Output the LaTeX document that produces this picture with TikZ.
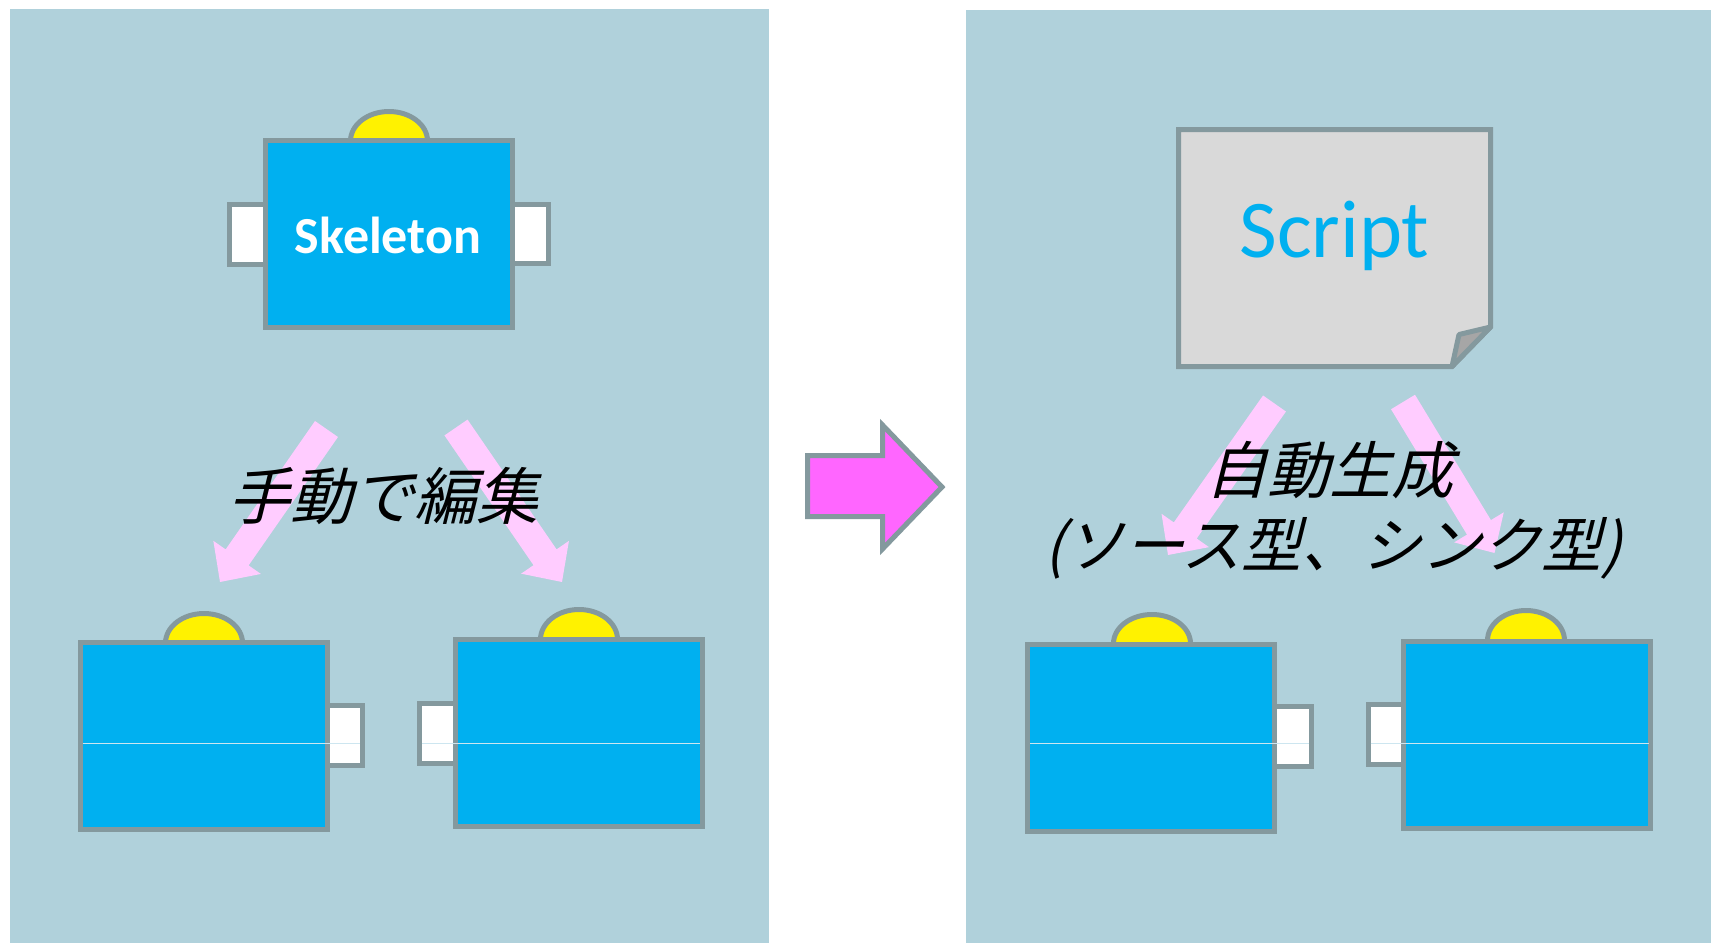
\documentclass[tikz,border=0pt]{standalone}
\usepackage{fontspec}
\newfontfamily\carlito{Carlito}
\newfontfamily\jpfont[FakeSlant=0.25]{Noto Sans CJK JP}
\usetikzlibrary{calc}
\definecolor{panelbg}{RGB}{176,209,219}
\definecolor{edgegray}{RGB}{132,153,158}
\definecolor{boxblue}{RGB}{0,176,240}
\definecolor{pinkc}{RGB}{255,204,255}
\definecolor{magentac}{RGB}{255,102,255}
\definecolor{docgray}{RGB}{217,217,217}
\definecolor{foldgray}{RGB}{166,166,166}
\definecolor{midc}{RGB}{205,230,240}
\newcommand\pinkarrow[2]{%
  \coordinate (#1h) at ($(#2)!30pt!(#1)$);
  \fill[pinkc] ($(#1)!14pt!90:(#2)$) -- ($(#1h)!14pt!90:(#2)$) -- ($(#1h)!29pt!90:(#2)$)
    -- (#2) -- ($(#1h)!29pt!-90:(#2)$) -- ($(#1h)!14pt!-90:(#2)$) -- ($(#1)!14pt!-90:(#2)$) -- cycle;}
\begin{document}
\begin{tikzpicture}[x=1pt,y=-1pt,
  edge/.style={draw=edgegray, line width=5pt},
  blockbox/.style={edge, fill=boxblue, minimum width=247pt, minimum height=187pt, inner sep=0pt, outer sep=0pt},
  portbox/.style={edge, fill=white},
  domeshape/.style={edge, fill=yellow},
  midstyle/.style={draw=midc, line width=0.9pt},
  jptext/.style={font=\jpfont\fontsize{62}{72}\selectfont, text=black, inner sep=0pt}]
\useasboundingbox (0,0) rectangle (1711,943);
\fill[white] (0,0) rectangle (1711,943);
% panels
\fill[panelbg] (10,9) rectangle (769,943);
\fill[panelbg] (966,10) rectangle (1711,943);

% ---------- Skeleton ----------
\draw[portbox] (229.5,204.5) rectangle (270,264.5);
\draw[portbox] (505,204.5) rectangle (548.5,263.5);
\draw[domeshape] (350.5,141) arc[start angle=180, end angle=0, x radius=38.5pt, y radius=29.5pt];
\node[blockbox] (skel) at (388.5,234) {};
\node[font=\carlito\bfseries\fontsize{52}{60}\selectfont, text=white, anchor=base, inner sep=0pt] (skeltext) at (388,253) {Skeleton};

% ---------- bottom-left pair ----------
\draw[portbox] (320,705.5) rectangle (362.5,765.5);
\draw[domeshape] (165.5,643) arc[start angle=180, end angle=0, x radius=38.5pt, y radius=29.5pt];
\node[blockbox] (A) at (203.5,736) {};
\draw[portbox] (419.5,703.5) rectangle (460,763.5);
\draw[domeshape] (540.5,639.5) arc[start angle=180, end angle=0, x radius=38.5pt, y radius=30pt];
\node[blockbox] (B) at (578.5,733) {};
\draw[midstyle] (82.5,743) -- (360,743);
\draw[midstyle] (422,743) -- (700,743);

% ---------- bottom-right pair ----------
\draw[portbox] (1270,706.5) rectangle (1311,766.5);
\draw[domeshape] (1113.5,643.5) arc[start angle=180, end angle=0, x radius=38.5pt, y radius=29pt];
\node[blockbox] (C) at (1151.25,737.5) {};
\draw[portbox] (1368,704.5) rectangle (1408,764.5);
\draw[domeshape] (1487.5,640.5) arc[start angle=180, end angle=0, x radius=38.5pt, y radius=30pt];
\node[blockbox] (D) at (1526.75,734.5) {};
\draw[midstyle] (1030,743) -- (1308.5,743);
\draw[midstyle] (1370.5,743) -- (1648.5,743);

% ---------- Script document ----------
\draw[edge, fill=docgray] (1178.5,129.5) -- (1490.5,129.5) -- (1490.5,327) -- (1452,366.5) -- (1178.5,366.5) -- cycle;
\draw[edge, fill=foldgray, line join=round] (1490.5,327) -- (1459,334.5) -- (1452,366.5) -- cycle;
\node[font=\carlito\fontsize{82}{96}\selectfont, text=boxblue, anchor=base, inner sep=0pt] (script) at (1334.5,257) {Script};

% ---------- big arrow ----------
\draw[edge, fill=magentac] (807.5,455.5) -- (882.5,455.5) -- (882.5,425) -- (942,487) -- (882.5,549) -- (882.5,516.5) -- (807.5,516.5) -- cycle;

% ---------- pink arrows ----------
\coordinate (la1) at (326.5,429); \coordinate (la1t) at (220,582);
\coordinate (la2) at (456,427.5); \coordinate (la2t) at (562,582);
\coordinate (ra1) at (1274.5,403.5); \coordinate (ra1t) at (1168,555);
\coordinate (ra2) at (1403,402); \coordinate (ra2t) at (1494.5,553);
\pinkarrow{la1}{la1t}
\pinkarrow{la2}{la2t}
\pinkarrow{ra1}{ra1t}
\pinkarrow{ra2}{ra2t}

% ---------- texts ----------
\node[jptext] (manual) at (383,496) {手動で編集};
\node[jptext] (auto1) at (1329,470) {自動生成};
\node[jptext, font=\jpfont\fontsize{60}{72}\selectfont] (auto2) at (1333,548) {(ソース型、シンク型)};
\end{tikzpicture}
\end{document}
